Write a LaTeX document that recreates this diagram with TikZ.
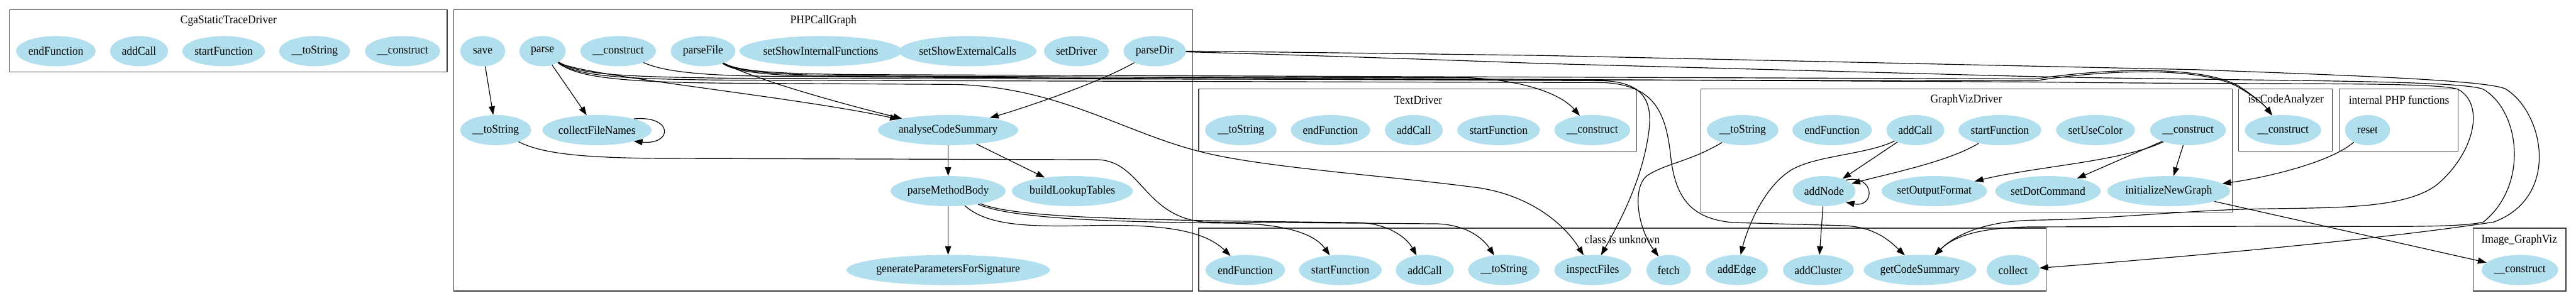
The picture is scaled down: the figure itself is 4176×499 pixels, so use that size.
\documentclass[tikz,border=0pt]{standalone}
\usepackage{fontspec}
\setmainfont{Liberation Serif}[FakeStretch=0.93]
\usetikzlibrary{shapes.geometric,arrows.meta}
\definecolor{fnblue}{RGB}{178,223,238}

\begin{document}
\begin{tikzpicture}[x=1pt,y=-1pt,
	fn/.style={ellipse,fill=fnblue,inner sep=0pt,minimum height=49pt,font=\fontsize{19.2}{21}\selectfont},
	cluster/.style={draw=black!75,line width=1.3pt},
	ctitle/.style={inner sep=0pt,font=\fontsize{19.2}{21}\selectfont},
	call/.style={draw,line width=1.2pt,-{Triangle[length=14pt,width=10pt]}}]
	\useasboundingbox (0,0) rectangle (4176,499);
	\fill[white] (0,0) rectangle (4176,499);

	\draw[cluster] (15.6,16) rectangle (725,117);
	\node[ctitle] (tCga) at (370.5,34) {CgaStaticTraceDriver};
	\draw[cluster] (735.7,16) rectangle (1933.5,472);
	\node[ctitle] (tPhp) at (1334.8,34) {PHPCallGraph};
	\draw[cluster] (1943.3,144) rectangle (2653.5,245);
	\node[ctitle] (tTxt) at (2299,162) {TextDriver};
	\draw[cluster] (2757.5,144) rectangle (3618.6,344);
	\node[ctitle] (tGv) at (3187.5,162) {GraphVizDriver};
	\draw[cluster] (3629,144) rectangle (3781,245);
	\node[ctitle] (tIsc) at (3705.6,162) {iscCodeAnalyzer};
	\draw[cluster] (3792,144) rectangle (3985,245);
	\node[ctitle] (tInt) at (3889,162) {internal PHP functions};
	\draw[cluster] (1943.3,370) rectangle (3317,472);
	\node[ctitle] (tUnk) at (2630,389) {class is unknown};
	\draw[cluster] (4009.6,370) rectangle (4159.6,472);
	\node[ctitle] (tImg) at (4084,389) {Image\_GraphViz};

	\node[fn,minimum width=129pt] (cgaEnd) at (90.6,83) {endFunction};
	\node[fn,minimum width=94pt] (cgaAddCall) at (225.4,83) {addCall};
	\node[fn,minimum width=134pt] (cgaStart) at (362.5,83) {startFunction};
	\node[fn,minimum width=115pt] (cgaToString) at (510,83) {\_\_toString};
	\node[fn,minimum width=122pt] (cgaConstruct) at (652.6,83) {\_\_construct};

	\node[fn,minimum width=73pt] (save) at (782.6,83) {save};
	\node[fn,minimum width=75pt] (parse) at (879.5,83) {parse};
	\node[fn,minimum width=123pt] (phpConstruct) at (1002,83) {\_\_construct};
	\node[fn,minimum width=105pt] (parseFile) at (1139.7,83) {parseFile};
	\node[fn,minimum width=230pt] (setShowInternal) at (1330.5,83) {setShowInternalFunctions};
	\node[fn,minimum width=200pt] (setShowExternal) at (1568.7,83) {setShowExternalCalls};
	\node[fn,minimum width=105pt] (setDriver) at (1745,83) {setDriver};
	\node[fn,minimum width=101pt] (parseDir) at (1871.8,83) {parseDir};
	\node[fn,minimum width=115pt] (phpToString) at (803.6,211) {\_\_toString};
	\node[fn,minimum width=166pt] (collectFileNames) at (967.8,211) {collectFileNames};
	\node[fn,minimum width=203pt] (analyse) at (1537,211) {analyseCodeSummary};
	\node[fn,minimum width=174pt] (methodBody) at (1537,310) {parseMethodBody};
	\node[fn,minimum width=182pt] (lookup) at (1738.4,310) {buildLookupTables};
	\node[fn,minimum width=277pt] (genParams) at (1537,438) {generateParametersForSignature};

	\node[fn,minimum width=116pt] (txtToString) at (2011.6,211) {\_\_toString};
	\node[fn,minimum width=129pt] (txtEnd) at (2156.7,211) {endFunction};
	\node[fn,minimum width=94pt] (txtAddCall) at (2292,211) {addCall};
	\node[fn,minimum width=134pt] (txtStart) at (2429.4,211) {startFunction};
	\node[fn,minimum width=123pt] (txtConstruct) at (2581.2,211) {\_\_construct};

	\node[fn,minimum width=116pt] (gvToString) at (2825,211) {\_\_toString};
	\node[fn,minimum width=129pt] (gvEnd) at (2970,211) {endFunction};
	\node[fn,minimum width=94pt] (gvAddCall) at (3105,211) {addCall};
	\node[fn,minimum width=134pt] (gvStart) at (3242,211) {startFunction};
	\node[fn,minimum width=128pt] (setUseColor) at (3397,211) {setUseColor};
	\node[fn,minimum width=123pt] (gvConstruct) at (3547,211) {\_\_construct};
	\node[fn,minimum width=102pt] (addNode) at (2957,310) {addNode};
	\node[fn,minimum width=161pt] (setOutputFormat) at (3135.7,310) {setOutputFormat};
	\node[fn,minimum width=160pt] (setDotCommand) at (3320,310) {setDotCommand};
	\node[fn,minimum width=184pt] (initGraph) at (3515.7,310) {initializeNewGraph};

	\node[fn,minimum width=124pt] (iscConstruct) at (3701,211) {\_\_construct};
	\node[fn,minimum width=73pt] (reset) at (3838,211) {reset};

	\node[fn,minimum width=129pt] (unkEnd) at (2018.7,438) {endFunction};
	\node[fn,minimum width=134pt] (unkStart) at (2172.8,438) {startFunction};
	\node[fn,minimum width=94pt] (unkAddCall) at (2309.8,438) {addCall};
	\node[fn,minimum width=116pt] (unkToString) at (2438,438) {\_\_toString};
	\node[fn,minimum width=125pt] (inspectFiles) at (2582,438) {inspectFiles};
	\node[fn,minimum width=72pt] (fetch) at (2704.9,438) {fetch};
	\node[fn,minimum width=101pt] (addEdge) at (2815.6,438) {addEdge};
	\node[fn,minimum width=115pt] (addCluster) at (2947.8,438) {addCluster};
	\node[fn,minimum width=169pt] (codeSummary) at (3112.5,438) {getCodeSummary};
	\node[fn,minimum width=86pt] (collect) at (3263.4,438) {collect};

	\node[fn,minimum width=124pt] (imgConstruct) at (4085,438) {\_\_construct};

	\draw[call] (save) -- (phpToString);
	\draw[call] (parse) -- (collectFileNames);
	\draw[call] (collectFileNames.17) .. controls +(64,-6) and +(64,6) .. (collectFileNames.-17);
	\draw[call] (parse) .. controls (935,122) and (1290,157) .. (analyse);
	\draw[call] (parseFile) .. controls (1200,118) and (1300,152) .. (analyse);
	\draw[call] (parseDir) .. controls (1780,135) and (1660,175) .. (analyse);
	\draw[call] (analyse) -- (methodBody);
	\draw[call] (analyse) -- (lookup);
	\draw[call] (methodBody) -- (genParams);

	\draw[call] (methodBody) .. controls (1640,355) and (1800,360) .. (2000,362) .. controls (2100,364) and (2135,385) .. (unkStart);
	\draw[call] (methodBody) .. controls (1645,352) and (1800,357) .. (2200,361) .. controls (2250,362) and (2280,385) .. (unkAddCall);
	\draw[call] (methodBody) .. controls (1600,365) and (1660,368) .. (1760,366) .. controls (1880,363) and (1950,372) .. (unkEnd);
	\draw[call] (phpToString) .. controls (880,250) and (950,257) .. (1100,257) -- (1780,259) .. controls (1850,262) and (1855,350) .. (1950,360) -- (2330,363) .. controls (2380,365) and (2405,388) .. (unkToString);
	\draw[call] (phpConstruct) .. controls (1080,118) and (1150,124) .. (1300,124) -- (2380,126) .. controls (2470,130) and (2530,152) .. (txtConstruct);

	\draw[call] (parse) .. controls (935,125) and (1000,134) .. (1200,135) -- (1550,137) .. controls (1720,142) and (1820,215) .. (1950,247) .. controls (2050,272) and (2250,285) .. (2400,305) .. controls (2490,320) and (2540,370) .. (inspectFiles);
	\draw[call] (parse) .. controls (935,120) and (1000,125) .. (1200,127) -- (3300,131) .. controls (3420,112) and (3570,108) .. (3630,142) .. controls (3660,160) and (3672,172) .. (iscConstruct);
	\draw[call] (parseFile) .. controls (1195,115) and (1250,120) .. (1400,121) -- (3300,128) .. controls (3420,110) and (3570,106) .. (3630,140) .. controls (3660,160) and (3672,172) .. (iscConstruct);
	\draw[call] (parse) .. controls (935,123) and (1000,129) .. (1200,130) -- (2600,134) .. controls (2680,138) and (2700,180) .. (2708,250) .. controls (2715,320) and (2740,355) .. (2810,361) -- (2990,366) .. controls (3040,368) and (3065,392) .. (codeSummary);
	\draw[call] (parseFile) .. controls (1195,118) and (1250,124) .. (1400,125) -- (2600,131) .. controls (2670,134) and (2680,170) .. (2672,220) .. controls (2660,300) and (2620,370) .. (inspectFiles);
	\draw[call] (parseFile) .. controls (1195,116) and (1250,122) .. (1400,123) -- (3300,133) .. controls (3700,138) and (3950,132) .. (3985,145) .. controls (4030,170) and (4010,250) .. (3950,300) .. controls (3890,345) and (3750,335) .. (3620,340) .. controls (3500,345) and (3400,356) .. (3300,357) .. controls (3220,358) and (3170,380) .. (codeSummary);
	\draw[call] (parseDir) .. controls (1960,85) and (2200,92) .. (2500,103) -- (3250,123) .. controls (3600,132) and (3990,128) .. (4026,145) .. controls (4085,180) and (4100,300) .. (4026,360) .. controls (3990,370) and (3850,367) .. (3700,367) -- (3300,368) .. controls (3220,368) and (3170,380) .. (codeSummary);
	\draw[call] (parseDir) .. controls (1960,83) and (2200,86) .. (2500,90) -- (3560,113) .. controls (3800,122) and (4040,130) .. (4063,145) .. controls (4125,185) and (4150,320) .. (4043,360) .. controls (3850,390) and (3500,420) .. (collect);

	\draw[call] (gvToString) .. controls (2740,262) and (2700,265) .. (2670,285) .. controls (2645,305) and (2655,370) .. (fetch);
	\draw[call] (gvAddCall) -- (addNode);
	\draw[call] (gvAddCall) .. controls (3030,250) and (2945,252) .. (2905,275) .. controls (2855,305) and (2830,380) .. (addEdge);
	\draw[call] (gvStart) .. controls (3160,262) and (3060,282) .. (addNode);
	\draw[call] (addNode.27) .. controls +(48,-10) and +(48,10) .. (addNode.-27);
	\draw[call] (addNode) -- (addCluster);
	\draw[call] (gvConstruct) .. controls (3440,262) and (3300,270) .. (setOutputFormat);
	\draw[call] (gvConstruct) -- (setDotCommand);
	\draw[call] (gvConstruct) -- (initGraph);
	\draw[call] (reset) .. controls (3780,262) and (3680,287) .. (initGraph);
	\draw[call] (initGraph) -- (imgConstruct);
\end{tikzpicture}
\end{document}
